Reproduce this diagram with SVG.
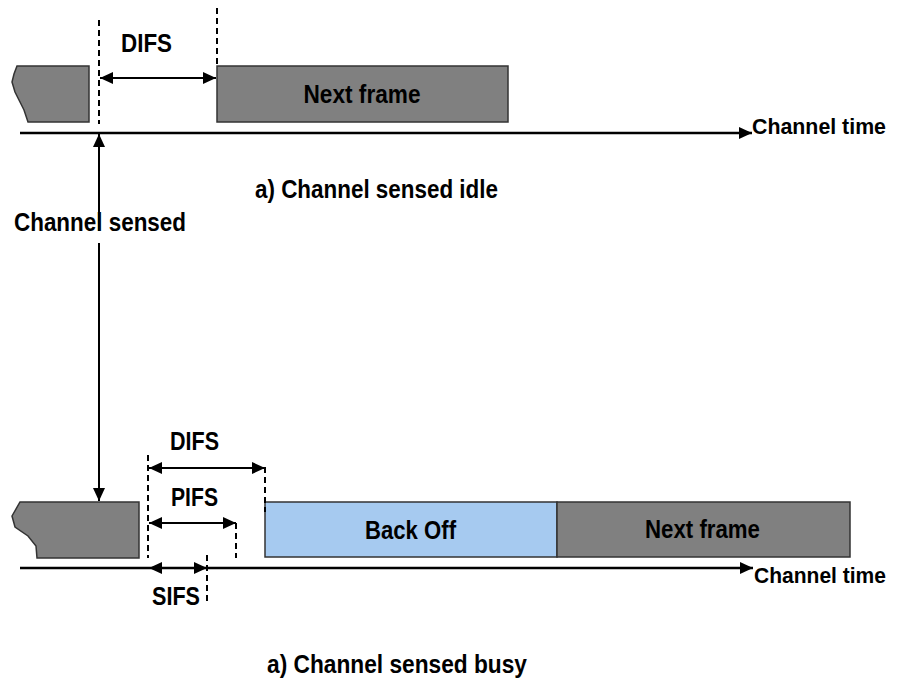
<svg xmlns="http://www.w3.org/2000/svg" width="898" height="682" viewBox="0 0 898 682">
<style>
text{font-family:"Liberation Sans Narrow","Liberation Sans",Arial,sans-serif;font-weight:bold;font-size:25px;fill:#000}
text.ct{font-size:22px}
.frame{fill:#808080;stroke:#333;stroke-width:1.5}
.back{fill:#A6CAF0;stroke:#333;stroke-width:1.5}
.line{stroke:#000;stroke-width:2.5;fill:none}
.arr{stroke:#000;stroke-width:2;fill:none}
.dash{stroke:#000;stroke-width:2;stroke-dasharray:6,4;fill:none}
</style>
<defs>
<marker id="ah" markerUnits="userSpaceOnUse" markerWidth="14" markerHeight="12" refX="13" refY="6" orient="auto-start-reverse">
<path d="M0,0 L13,6 L0,12 Z" fill="#000"/>
</marker>
</defs>

<g id="top-prev-frame"><path class="frame" d="M17,66 L89,66 L89,122 L28,122 L24,110 L15,92 L12,82 L14,74 Z"/></g>
<g id="top-next-frame"><rect class="frame" x="217" y="66" width="291" height="56"/><text x="362" y="103" text-anchor="middle" textLength="117" lengthAdjust="spacingAndGlyphs">Next frame</text></g>
<g id="top-difs"><text x="121" y="52" textLength="51" lengthAdjust="spacingAndGlyphs">DIFS</text></g>
<g id="top-channel-time"><text class="ct" x="752" y="134" textLength="134" lengthAdjust="spacingAndGlyphs">Channel time</text></g>
<g id="caption-idle"><text x="255" y="198" textLength="243" lengthAdjust="spacingAndGlyphs">a) Channel sensed idle</text></g>
<g id="channel-sensed"><text x="14" y="231" textLength="172" lengthAdjust="spacingAndGlyphs">Channel sensed</text></g>

<g id="bot-prev-frame"><path class="frame" d="M20,502 L139,502 L139,558 L37,558 L36,546 L28,536 L15,527 L12,516 Z"/></g>
<g id="backoff"><rect class="back" x="265" y="502" width="292" height="55"/><text x="365" y="539" textLength="91" lengthAdjust="spacingAndGlyphs">Back Off</text></g>
<g id="bot-next-frame"><rect class="frame" x="557" y="502" width="293" height="55"/><text x="645" y="538" textLength="115" lengthAdjust="spacingAndGlyphs">Next frame</text></g>
<g id="bot-difs"><text x="170" y="450" textLength="49" lengthAdjust="spacingAndGlyphs">DIFS</text></g>
<g id="bot-pifs"><text x="171" y="506" textLength="47" lengthAdjust="spacingAndGlyphs">PIFS</text></g>
<g id="bot-sifs"><text x="152" y="605" textLength="48" lengthAdjust="spacingAndGlyphs">SIFS</text></g>
<g id="bot-channel-time"><text class="ct" x="754" y="583" textLength="132" lengthAdjust="spacingAndGlyphs">Channel time</text></g>
<g id="caption-busy"><text x="267" y="673" textLength="260" lengthAdjust="spacingAndGlyphs">a) Channel sensed busy</text></g>

<g id="connectors">
<line class="line" x1="20" y1="133" x2="752" y2="133" marker-end="url(#ah)"/>
<line class="dash" x1="99" y1="20" x2="99" y2="124"/>
<line class="dash" x1="217" y1="8" x2="217" y2="66"/>
<line class="arr" x1="100" y1="78" x2="216" y2="78" marker-start="url(#ah)" marker-end="url(#ah)"/>
<line class="arr" x1="99" y1="231" x2="99" y2="134" marker-end="url(#ah)"/>
<line class="arr" x1="99" y1="243" x2="99" y2="501" marker-end="url(#ah)"/>

<line class="line" x1="20" y1="568" x2="753" y2="568" marker-end="url(#ah)"/>
<line class="dash" x1="148" y1="455" x2="148" y2="558"/>
<line class="dash" x1="265" y1="467" x2="265" y2="512"/>
<line class="dash" x1="236" y1="523" x2="236" y2="558"/>
<line class="dash" x1="207" y1="555" x2="207" y2="605"/>
<line class="arr" x1="149" y1="468" x2="265" y2="468" marker-start="url(#ah)" marker-end="url(#ah)"/>
<line class="arr" x1="149" y1="523" x2="236" y2="523" marker-start="url(#ah)" marker-end="url(#ah)"/>
<line class="arr" x1="149" y1="568" x2="207" y2="568" marker-start="url(#ah)" marker-end="url(#ah)"/>
</g>
</svg>
